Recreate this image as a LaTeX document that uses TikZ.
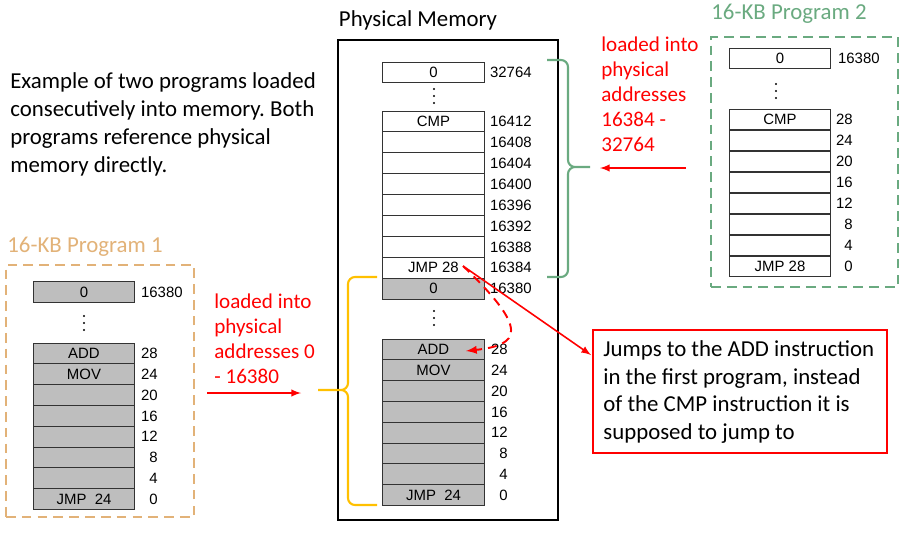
\documentclass[tikz,border=0pt]{standalone}
\usepackage{fontspec}
\setmainfont{Carlito}
\newfontfamily\arialfont{Liberation Sans}
\usepackage{xcolor}
\definecolor{progone}{RGB}{226,178,120}
\definecolor{progtwo}{RGB}{106,170,128}
\definecolor{braceyellow}{RGB}{255,192,0}
\definecolor{cellgrey}{RGB}{190,190,190}
\frenchspacing

\begin{document}
\begin{tikzpicture}[x=0.02cm,y=-0.02cm,
    cell/.style={draw=black!80,line width=0.6pt,minimum width=2.03cm,minimum height=0.418cm,inner sep=0pt,font=\arialfont\fontsize{8.5}{10}\selectfont},
    gcell/.style={cell,fill=cellgrey},
    addr/.style={anchor=east,inner sep=0pt,font=\arialfont\fontsize{8.5}{10}\selectfont},
    calibri/.style={inner sep=0pt,font=\fontsize{13}{15.9}\selectfont},
    redtext/.style={anchor=west,align=left,inner sep=0pt,text=red,font=\fontsize{12}{14.2}\selectfont},
    frame/.style={dashed,dash pattern=on 5.5pt off 3.5pt,line width=1.6pt},
    bracket/.style={line width=1.2pt,rounded corners=4pt},
    redarrow/.style={red,line width=0.9pt,-latex}]
            \useasboundingbox (0,0) rectangle (906,532);

            % frames
            \node (phys) at (448,280) [draw,line width=1.2pt,minimum width=4.4cm,minimum height=9.6cm] {};
            \node (prog1) at (100,391) [draw=progone,frame,minimum width=3.76cm,minimum height=5.04cm] {};
            \node (prog2) at (804.5,162) [draw=progtwo,frame,minimum width=3.74cm,minimum height=5cm] {};
            \node (note) at (740,391.5) [draw=red,line width=0.8pt,minimum width=5.88cm,minimum height=2.46cm] {};
            \node (notetext) at (603,392) [calibri,anchor=west,align=left] {Jumps to the ADD instruction\\in the first program, instead\\of the CMP instruction it is\\supposed to jump to};

            % titles and texts
            \node (pmtitle) at (418,20) [calibri] {Physical Memory};
            \node (p1title) at (85,247) [calibri,text=progone] {16-KB Program 1};
            \node (p2title) at (789,14) [calibri,text=progtwo] {16-KB Program 2};
            \node (desc) at (10,124) [calibri,anchor=west,align=left] {Example of two programs loaded\\consecutively into memory. Both\\programs reference physical\\memory directly.};
            \node (load1) at (214,339) [redtext] {loaded into\\physical\\addresses 0\\- 16380};
            \node (load2) at (601,94) [redtext] {loaded into\\physical\\addresses\\16384 -\\32764};

            % physical memory
            \node (m0) at (433.5,72.5) [cell] {0};
            \node (m1) at (433.5,121.5) [cell] {CMP};
            \node (m2) at (433.5,142.4) [cell] {};
            \node (m3) at (433.5,163.3) [cell] {};
            \node (m4) at (433.5,184.2) [cell] {};
            \node (m5) at (433.5,205.1) [cell] {};
            \node (m6) at (433.5,226.0) [cell] {};
            \node (m7) at (433.5,246.9) [cell] {};
            \node (m8) at (433.5,267.8) [cell] {JMP 28};
            \node (m9) at (433.5,288.7) [gcell] {0};
            \node (n1) at (433.5,349.5) [gcell] {ADD};
            \node (n2) at (433.5,370.3) [gcell] {MOV};
            \node (n3) at (433.5,391.1) [gcell] {};
            \node (n4) at (433.5,411.9) [gcell] {};
            \node (n5) at (433.5,432.7) [gcell] {};
            \node (n6) at (433.5,453.5) [gcell] {};
            \node (n7) at (433.5,474.3) [gcell] {};
            \node (n8) at (433.5,495.1) [gcell] {JMP~ 24};
            \fill (434,89) circle (0.7pt) (434,96) circle (0.7pt) (434,103) circle (0.7pt);
            \fill (434,311) circle (0.7pt) (434,318) circle (0.7pt) (434,325) circle (0.7pt);

            \node (am0) at (532,72.5) [addr] {32764};
            \node (am1) at (532,121.5) [addr] {16412};
            \node (am2) at (532,142.4) [addr] {16408};
            \node (am3) at (532,163.3) [addr] {16404};
            \node (am4) at (532,184.2) [addr] {16400};
            \node (am5) at (532,205.1) [addr] {16396};
            \node (am6) at (532,226.0) [addr] {16392};
            \node (am7) at (532,246.9) [addr] {16388};
            \node (am8) at (532,267.8) [addr] {16384};
            \node (am9) at (532,288.7) [addr] {16380};
            \node (an1) at (508,349.5) [addr] {28};
            \node (an2) at (508,370.3) [addr] {24};
            \node (an3) at (508,391.1) [addr] {20};
            \node (an4) at (508,411.9) [addr] {16};
            \node (an5) at (508,432.7) [addr] {12};
            \node (an6) at (508,453.5) [addr] {8};
            \node (an7) at (508,474.3) [addr] {4};
            \node (an8) at (508,495.1) [addr] {0};

            % program 1
            \node (p0) at (84,292) [gcell] {0};
            \node (p1) at (84,353.5) [gcell] {ADD};
            \node (p2) at (84,374.3) [gcell] {MOV};
            \node (p3) at (84,395.1) [gcell] {};
            \node (p4) at (84,415.9) [gcell] {};
            \node (p5) at (84,436.7) [gcell] {};
            \node (p6) at (84,457.5) [gcell] {};
            \node (p7) at (84,478.3) [gcell] {};
            \node (p8) at (84,499.1) [gcell] {JMP~ 24};
            \fill (84,316) circle (0.7pt) (84,323) circle (0.7pt) (84,330) circle (0.7pt);

            \node (ap0) at (183,292) [addr] {16380};
            \node (ap1) at (158,353.5) [addr] {28};
            \node (ap2) at (158,374.3) [addr] {24};
            \node (ap3) at (158,395.1) [addr] {20};
            \node (ap4) at (158,415.9) [addr] {16};
            \node (ap5) at (158,436.7) [addr] {12};
            \node (ap6) at (158,457.5) [addr] {8};
            \node (ap7) at (158,478.3) [addr] {4};
            \node (ap8) at (158,499.1) [addr] {0};

            % program 2
            \node (q0) at (780,58.5) [cell] {0};
            \node (q1) at (780,119.5) [cell] {CMP};
            \node (q2) at (780,140.5) [cell] {};
            \node (q3) at (780,161.5) [cell] {};
            \node (q4) at (780,182.5) [cell] {};
            \node (q5) at (780,203.5) [cell] {};
            \node (q6) at (780,224.5) [cell] {};
            \node (q7) at (780,245.5) [cell] {};
            \node (q8) at (780,266.5) [cell] {JMP 28};
            \fill (776,84) circle (0.7pt) (776,91) circle (0.7pt) (776,98) circle (0.7pt);

            \node (aq0) at (880,58.5) [addr] {16380};
            \node (aq1) at (853,119.5) [addr] {28};
            \node (aq2) at (853,140.5) [addr] {24};
            \node (aq3) at (853,161.5) [addr] {20};
            \node (aq4) at (853,182.5) [addr] {16};
            \node (aq5) at (853,203.5) [addr] {12};
            \node (aq6) at (853,224.5) [addr] {8};
            \node (aq7) at (853,245.5) [addr] {4};
            \node (aq8) at (853,266.5) [addr] {0};

            % braces
            \coordinate (gtip) at (590,167);
            \coordinate (ytip) at (318,390);
            \draw[bracket,progtwo] (547,60) -- (568,60) -- (568,167) -- (gtip) (gtip) -- (568,167) -- (568,277) -- (547,277);
            \draw[bracket,braceyellow] (377,277) -- (348,277) -- (348,390) -- (ytip) (ytip) -- (348,390) -- (348,505) -- (377,505);

            % arrows
            \coordinate (in1a) at (207,393);
            \coordinate (in1b) at (301,393);
            \coordinate (in2a) at (686,168);
            \coordinate (in2b) at (600,168);
            \coordinate (jmp) at (463,266);
            \coordinate (jmpend) at (591,355);
            \coordinate (add) at (466,351);
            \draw[redarrow] (in1a) -- (in1b);
            \draw[redarrow] (in2a) -- (in2b);
            \draw[redarrow] (jmp) -- (jmpend);
            \draw[redarrow,dashed,dash pattern=on 5pt off 3.5pt,line width=1.1pt] (jmp) .. controls (530,330) and (520,345) .. (add);

        \end{tikzpicture}
\end{document}
